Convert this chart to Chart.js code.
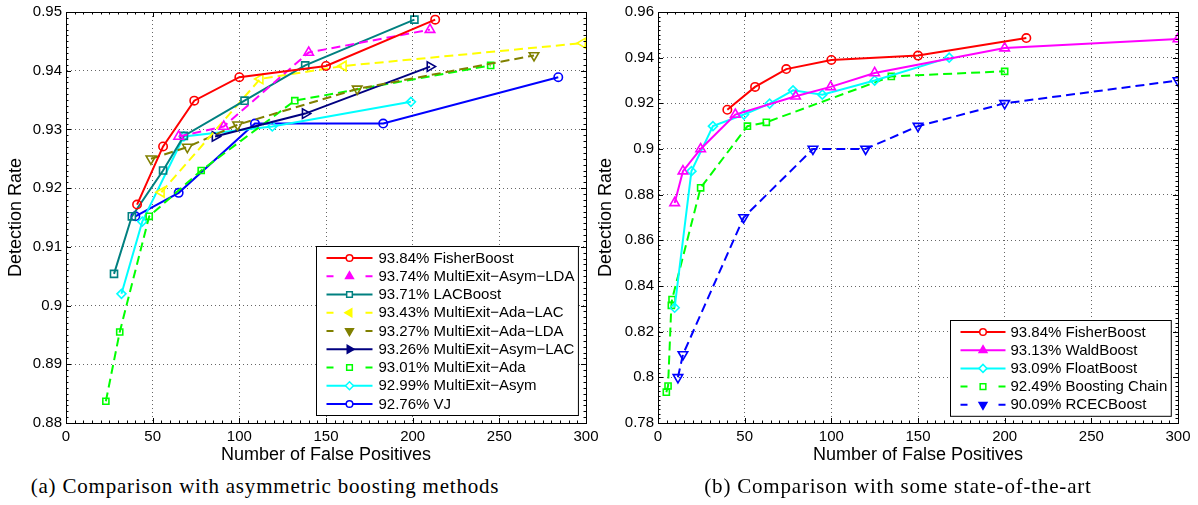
<!DOCTYPE html>
<html>
<head>
  <title>Detection rate vs false positives</title>
  <script src="https://cdn.jsdelivr.net/npm/chart.js@4.4.0/dist/chart.umd.min.js"></script>
  <style>
    body { margin: 0; background: #fff; }
    #page { position: relative; width: 1198px; height: 505px; overflow: hidden; }
    canvas { position: absolute; top: 0; }
    .caption { position: absolute; top: 474px; font-family: 'Liberation Serif', 'DejaVu Serif', serif; font-size: 21px; letter-spacing: 0.8px; color: #000; white-space: nowrap; transform: translateX(-50%); }
  </style>
</head>
<body>
<div id="page">
  <canvas id="chartA" width="600" height="470" style="left:0px"></canvas>
  <canvas id="chartB" width="608" height="470" style="left:590px"></canvas>
  <div class="caption" style="left:265px">(a) Comparison with asymmetric boosting methods</div>
  <div class="caption" style="left:898px">(b) Comparison with some state-of-the-art</div>
</div>

<script>
  // ---- данные (a) ----
  const xTicksA = [0, 50, 100, 150, 200, 250, 300];
  const yTicksA = [0.88, 0.89, 0.9, 0.91, 0.92, 0.93, 0.94, 0.95];

  const fisherFpA = [41, 56, 74, 100, 150, 213];
  const fisherDrA = [0.9172, 0.9271, 0.9349, 0.9389, 0.9408, 0.9487];
  const asymLdaFp = [65, 91, 140, 210];
  const asymLdaDr = [0.9288, 0.9305, 0.9431, 0.947];
  const lacFp = [27.7, 38, 56, 68, 103, 138, 201];
  const lacDr = [0.9054, 0.9152, 0.923, 0.9289, 0.9349, 0.9409, 0.9487];
  const adaLacFp = [55, 112, 160, 298];
  const adaLacDr = [0.9193, 0.9386, 0.9408, 0.9447];
  const adaLdaFp = [49, 70, 99, 168, 270];
  const adaLdaDr = [0.925, 0.927, 0.9308, 0.9369, 0.9426];
  const asymLacFp = [86, 138, 210];
  const asymLacDr = [0.9288, 0.9327, 0.9407];
  const adaFp = [23, 31, 48, 78, 132, 245];
  const adaDr = [0.8837, 0.8955, 0.9152, 0.923, 0.9349, 0.9409];
  const asymFp = [32, 44, 68, 119, 199];
  const asymDr = [0.902, 0.9143, 0.9288, 0.9305, 0.9347];
  const vjFp = [40, 65, 109, 183, 284];
  const vjDr = [0.9152, 0.9192, 0.931, 0.931, 0.9389];

  // ---- данные (b) ----
  const xTicksB = [0, 50, 100, 150, 200, 250, 300];
  const yTicksB = [0.78, 0.8, 0.82, 0.84, 0.86, 0.88, 0.9, 0.92, 0.94, 0.96];

  const fisherFpB = [40, 56, 74, 100, 150, 212.5];
  const fisherDrB = [0.9172, 0.9272, 0.935, 0.939, 0.9409, 0.9486];
  const waldFp = [9.6, 14.4, 24.6, 44.6, 79.4, 99.6, 125, 200, 300];
  const waldDr = [0.8764, 0.8903, 0.9, 0.9151, 0.9231, 0.9272, 0.9333, 0.9442, 0.9482];
  const floatFp = [9.6, 19.3, 31.7, 49.6, 64.4, 77.9, 94.8, 125, 168];
  const floatDr = [0.8305, 0.8903, 0.91, 0.9151, 0.9199, 0.9257, 0.9238, 0.93, 0.94];
  const chainFp = [4.8, 5.8, 7.7, 8.1, 24.6, 51.6, 62.5, 134.6, 200];
  const chainDr = [0.7935, 0.7962, 0.8315, 0.8341, 0.883, 0.91, 0.9117, 0.9318, 0.934];
  const rcecFp = [11.5, 14.4, 49.4, 89.4, 119.8, 150, 200, 300];
  const rcecDr = [0.8, 0.81, 0.87, 0.9, 0.9, 0.91, 0.92, 0.93];

  Chart.defaults.font.family = "'Liberation Sans', Arial, sans-serif";
  Chart.defaults.font.size = 15;
  Chart.defaults.color = '#000';

  const DASH = [9, 5];

  function pts(xs, ys) { return xs.map((x, i) => ({x: x, y: ys[i]})); }

  function series(label, xs, ys, color, style, radius, dashed, rotation) {
    return {
      label: label,
      data: pts(xs, ys),
      showLine: true,
      borderColor: color,
      backgroundColor: color,
      borderWidth: 2,
      borderDash: dashed ? DASH : [],
      pointStyle: style,
      pointRadius: radius,
      pointRotation: rotation || 0,
      pointBorderColor: color,
      pointBackgroundColor: 'rgba(0,0,0,0)',
      pointBorderWidth: 1.6,
      pointHoverRadius: radius
    };
  }

  // рамка, внутренние деления (как в MATLAB)
  const matlabFrame = {
    id: 'matlabFrame',
    afterDraw(chart, args, o) {
      const {ctx, chartArea: a, scales: {x, y}} = chart;
      ctx.save();
      ctx.strokeStyle = '#000';
      ctx.lineWidth = 1;
      ctx.beginPath();
      ctx.rect(Math.round(a.left) + 0.5, Math.round(a.top) + 0.5, Math.round(a.right - a.left), Math.round(a.bottom - a.top));
      ctx.stroke();
      ctx.beginPath();
      const xt = (v, len) => {
        const px = Math.round(x.getPixelForValue(v)) + 0.5;
        ctx.moveTo(px, a.bottom); ctx.lineTo(px, a.bottom - len);
        ctx.moveTo(px, a.top); ctx.lineTo(px, a.top + len);
      };
      const yt = (v, len) => {
        const py = Math.round(y.getPixelForValue(v)) + 0.5;
        ctx.moveTo(a.left, py); ctx.lineTo(a.left + len, py);
        ctx.moveTo(a.right, py); ctx.lineTo(a.right - len, py);
      };
      for (let i = 0; x.min + i * o.xMinor <= x.max + 1e-9; i++) xt(x.min + i * o.xMinor, 2.5);
      for (let i = 0; y.min + i * o.yMinor <= y.max + 1e-9; i++) yt(y.min + i * o.yMinor, 2.5);
      x.ticks.forEach(t => xt(t.value, 5));
      y.ticks.forEach(t => yt(t.value, 5));
      ctx.stroke();
      ctx.restore();
    }
  };

  // легенда внутри осей, справа снизу
  const boxLegend = {
    id: 'boxLegend',
    afterDraw(chart, args, o) {
      const {ctx, chartArea: a} = chart;
      const sets = chart.data.datasets;
      ctx.save();
      ctx.font = "15px 'Liberation Sans', Arial, sans-serif";
      const tw = Math.max(...sets.map(d => ctx.measureText(d.label).width));
      const w = o.textOffset + tw + 4;
      const h = (sets.length - 1) * o.rowH + 23;
      const left = Math.round(a.right - o.margin - w) + 0.5;
      const top = Math.round(a.bottom - o.margin - h) + 0.5;
      ctx.fillStyle = '#fff';
      ctx.fillRect(left, top, w, h);
      ctx.strokeStyle = '#000';
      ctx.lineWidth = 1;
      ctx.strokeRect(left, top, w, h);
      sets.forEach((d, i) => {
        const cy = top + 11.5 + i * o.rowH;
        const x0 = left + 10, x1 = left + 10 + o.sample, xm = (x0 + x1) / 2;
        ctx.strokeStyle = d.borderColor;
        ctx.lineWidth = 2;
        ctx.beginPath();
        if (d.borderDash.length) {
          ctx.moveTo(x0, cy); ctx.lineTo(x0 + 7, cy);
          ctx.moveTo(x1 - 7, cy); ctx.lineTo(x1, cy);
        } else {
          ctx.moveTo(x0, cy); ctx.lineTo(x1, cy);
        }
        ctx.stroke();
        const tri = d.pointStyle === 'triangle';
        ctx.fillStyle = tri ? d.borderColor : '#fff';
        ctx.lineWidth = 1.5;
        Chart.helpers.drawPoint(ctx, {
          pointStyle: d.pointStyle,
          rotation: d.pointRotation,
          radius: d.pointStyle === 'circle' ? 3.3 : (tri ? 4.5 : 4),
          borderWidth: 1.5
        }, xm, cy);
        ctx.fillStyle = '#000';
        ctx.textBaseline = 'middle';
        ctx.textAlign = 'left';
        ctx.fillText(d.label, left + o.textOffset, cy + 0.5);
      });
      ctx.restore();
    }
  };

  function makeChart(id, datasets, xTicks, yTicks, yAxisWidth, padRight, yMinor, legendOpts) {
    return new Chart(document.getElementById(id), {
      type: 'scatter',
      data: {datasets: datasets},
      options: {
        responsive: false,
        animation: false,
        devicePixelRatio: 1,
        layout: {padding: {top: 12, right: padRight, left: 0, bottom: 0}},
        plugins: {
          legend: {display: false},
          tooltip: {enabled: false},
          matlabFrame: {xMinor: 5, yMinor: yMinor},
          boxLegend: legendOpts
        },
        scales: {
          x: {
            type: 'linear',
            min: xTicks[0],
            max: xTicks[xTicks.length - 1],
            afterBuildTicks: s => { s.ticks = xTicks.map(v => ({value: v})); },
            afterFit: s => { s.height = 47; s.paddingLeft = 0; s.paddingRight = 0; },
            ticks: {padding: 5, maxRotation: 0, autoSkip: false, font: {size: 15}},
            grid: {color: 'rgba(0,0,0,0.6)', lineWidth: 1, drawTicks: false},
            border: {display: true, color: '#000', width: 1, dash: [1, 3]},
            title: {display: true, text: 'Number of False Positives', font: {size: 18}, padding: {top: 0, bottom: 4}}
          },
          y: {
            type: 'linear',
            min: yTicks[0],
            max: yTicks[yTicks.length - 1],
            afterBuildTicks: s => { s.ticks = yTicks.map(v => ({value: v})); },
            afterFit: s => { s.width = yAxisWidth; s.paddingTop = 0; s.paddingBottom = 0; },
            ticks: {padding: 4, autoSkip: false, font: {size: 15}, callback: v => String(Number(v.toFixed(3)))},
            grid: {color: 'rgba(0,0,0,0.6)', lineWidth: 1, drawTicks: false},
            border: {display: true, color: '#000', width: 1, dash: [1, 3]},
            title: {display: true, text: 'Detection Rate', font: {size: 18}, padding: {top: 5, bottom: 0}}
          }
        }
      },
      plugins: [matlabFrame, boxLegend]
    });
  }

  const M = '\u2212';

  makeChart('chartA', [
    series('93.84% FisherBoost', fisherFpA, fisherDrA, '#ff0000', 'circle', 4.2, false),
    series('93.74% MultiExit' + M + 'Asym' + M + 'LDA', asymLdaFp, asymLdaDr, '#ff00ff', 'triangle', 5.5, true),
    series('93.71% LACBoost', lacFp, lacDr, '#008080', 'rect', 5, false),
    series('93.43% MultiExit' + M + 'Ada' + M + 'LAC', adaLacFp, adaLacDr, '#ffff00', 'triangle', 5.5, true, -90),
    series('93.27% MultiExit' + M + 'Ada' + M + 'LDA', adaLdaFp, adaLdaDr, '#808000', 'triangle', 5.5, true, 180),
    series('93.26% MultiExit' + M + 'Asym' + M + 'LAC', asymLacFp, asymLacDr, '#000080', 'triangle', 5.5, false, 90),
    series('93.01% MultiExit' + M + 'Ada', adaFp, adaDr, '#00ff00', 'rect', 4.3, true),
    series('92.99% MultiExit' + M + 'Asym', asymFp, asymDr, '#00ffff', 'rectRot', 4.5, false),
    series('92.76% VJ', vjFp, vjDr, '#0000ff', 'circle', 4.2, false)
  ], xTicksA, yTicksA, 66, 14, 0.001, {margin: 8, rowH: 18.25, sample: 46, textOffset: 62});

  makeChart('chartB', [
    series('93.84% FisherBoost', fisherFpB, fisherDrB, '#ff0000', 'circle', 4.2, false),
    series('93.13% WaldBoost', waldFp, waldDr, '#ff00ff', 'triangle', 5.5, false),
    series('93.09% FloatBoost', floatFp, floatDr, '#00ffff', 'rectRot', 4.5, false),
    series('92.49% Boosting Chain', chainFp, chainDr, '#00ff00', 'rect', 4.3, true),
    series('90.09% RCECBoost', rcecFp, rcecDr, '#0000ff', 'triangle', 5.5, true, 180)
  ], xTicksB, yTicksB, 68, 20, 0.002, {margin: 7, rowH: 18.2, sample: 45, textOffset: 60});
</script>
</body>
</html>
